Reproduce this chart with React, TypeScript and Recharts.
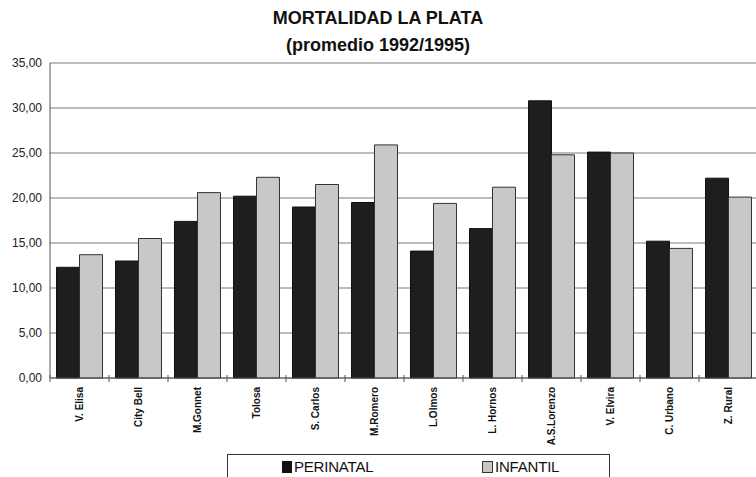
import React from 'react';
import { BarChart, Bar, XAxis, YAxis, CartesianGrid, Legend } from 'recharts';

const categories = ['V. Elisa', 'City Bell', 'M.Gonnet', 'Tolosa', 'S. Carlos', 'M.Romero', 'L.Olmos', 'L. Hornos', 'A.S.Lorenzo', 'V. Elvira', 'C. Urbano', 'Z. Rural'];
const perinatal = [12.3, 13.0, 17.4, 20.2, 19.0, 19.5, 14.1, 16.6, 30.8, 25.1, 15.2, 22.2];
const infantil = [13.7, 15.5, 20.6, 22.3, 21.5, 25.9, 19.4, 21.2, 24.8, 25.0, 14.4, 20.1];
const yTicks = [0, 5, 10, 15, 20, 25, 30, 35];

const data = categories.map((c, i) => ({ name: c, perinatal: perinatal[i], infantil: infantil[i] }));

const XTick = (props: any) => {
  const { x, y, payload } = props;
  const off = payload && payload.offset ? payload.offset : 29.5;
  return (
    <g>
      <line x1={x - off} x2={x - off} y1={y - 3} y2={y + 4} stroke="#555" strokeWidth={1} />
      <text
        x={x}
        y={y + 9}
        transform={`rotate(-90, ${x}, ${y + 9})`}
        textAnchor="end"
        dominantBaseline="central"
        fontFamily="'Liberation Sans', Arial, sans-serif"
        fontWeight="bold"
        fontSize={10}
        fill="#111"
      >
        {payload.value}
      </text>
    </g>
  );
};

const LegendContent = () => (
  <div
    style={{
      boxSizing: 'border-box',
      width: 383,
      height: 30,
      border: '1px solid #333',
      position: 'relative',
      fontFamily: "'Liberation Sans', Arial, sans-serif",
      fontSize: 15,
      color: '#111',
    }}
  >
    <div style={{ position: 'absolute', left: 54, top: 3, display: 'flex', alignItems: 'center' }}>
      <span style={{ display: 'inline-block', width: 10, height: 12, background: '#111', marginRight: 2 }} />
      <span style={{ letterSpacing: -0.2 }}>PERINATAL</span>
    </div>
    <div style={{ position: 'absolute', left: 254, top: 3, display: 'flex', alignItems: 'center' }}>
      <span style={{ display: 'inline-block', width: 9, height: 10, background: '#c6c6c6', border: '1px solid #333', marginRight: 2 }} />
      <span style={{ letterSpacing: -0.2 }}>INFANTIL</span>
    </div>
  </div>
);

export default function App() {
  return (
    <div style={{ position: 'absolute', left: 0, top: 0, width: 756, height: 477, overflow: 'hidden', background: '#fff' }}>
      <div
        style={{
          position: 'absolute',
          left: 0,
          top: 5,
          width: 756,
          textAlign: 'center',
          fontFamily: "'Liberation Sans', Arial, sans-serif",
          fontWeight: 'bold',
          fontSize: 18,
          color: '#111',
          lineHeight: '27px',
        }}
      >
        <div>MORTALIDAD LA PLATA</div>
        <div>(promedio 1992/1995)</div>
      </div>
      <BarChart
        width={758}
        height={477}
        data={data}
        margin={{ top: 63, right: 0, left: 0, bottom: 0 }}
        barCategoryGap="11%"
        barGap={0}
      >
        <CartesianGrid vertical={false} stroke="#7a7a7a" strokeWidth={1} />
        <XAxis
          dataKey="name"
          height={69}
          tickLine={false}
          tickSize={0}
          tickMargin={0}
          interval={0}
          stroke="#555"
          tick={<XTick />}
        />
        <YAxis
          width={50}
          domain={[0, 35]}
          ticks={yTicks}
          tickLine={false}
          stroke="#555"
          tickFormatter={(v: number) => v.toFixed(2).replace('.', ',')}
          tick={{ fontFamily: "'Liberation Sans', Arial, sans-serif", fontSize: 12, fill: '#222' }}
        />
        <Legend
          verticalAlign="bottom"
          content={<LegendContent />}
          wrapperStyle={{ top: 454, left: 227, bottom: 'auto', width: 383 }}
        />
        <Bar dataKey="perinatal" name="PERINATAL" fill="#1e1e1e" stroke="#111" strokeWidth={1} isAnimationActive={false} />
        <Bar dataKey="infantil" name="INFANTIL" fill="#c8c8c8" stroke="#333" strokeWidth={1} isAnimationActive={false} />
      </BarChart>
    </div>
  );
}
